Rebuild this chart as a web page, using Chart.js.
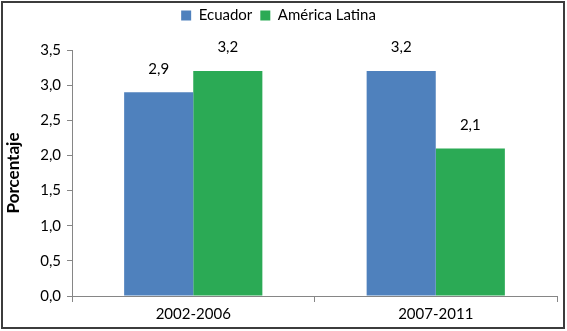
<!DOCTYPE html>
<html>
<head>
<meta charset="utf-8">
<script src="https://cdn.jsdelivr.net/npm/chart.js@4"></script>
<style>
  html, body { margin: 0; padding: 0; background: #fff; }
  #wrap { position: relative; width: 567px; height: 331px; }
</style>
</head>
<body>
<div id="wrap"><canvas id="chart" width="567" height="331"></canvas></div>
<script>
// periods and series
const periods = ["2002-2006", "2007-2011"];
const ecuador = [2.9, 3.2];
const americaLatina = [3.2, 2.1];
const seriesNames = ["Ecuador", "América Latina"];
const FONT = "Lato, 'Open Sans', sans-serif";

const comma = v => Number(v).toFixed(1).replace(".", ",");

// frame around the whole chart
const framePlugin = {
  id: "frame",
  afterDraw(chart) {
    const c = chart.ctx;
    c.save();
    c.strokeStyle = "#3c3c3c";
    c.lineWidth = 2;
    c.strokeRect(2, 2, chart.width - 5, chart.height - 5);
    c.restore();
  }
};

// extra room under the legend
const legendGap = {
  id: "legendGap",
  beforeInit(chart) {
    const fit = chart.legend.fit;
    chart.legend.fit = function () {
      fit.bind(chart.legend)();
      this.height += 17;
    };
  }
};

// value labels above each bar
const valueLabels = {
  id: "valueLabels",
  afterDatasetsDraw(chart) {
    const c = chart.ctx;
    c.save();
    c.font = "15px " + FONT;
    c.fillStyle = "#000";
    c.textAlign = "center";
    c.textBaseline = "bottom";
    chart.data.datasets.forEach((ds, i) => {
      chart.getDatasetMeta(i).data.forEach((bar, j) => {
        c.fillText(comma(ds.data[j]), bar.x, bar.y - 16);
      });
    });
    c.restore();
  }
};

new Chart(document.getElementById("chart"), {
  type: "bar",
  data: {
    labels: periods,
    datasets: [
      { label: seriesNames[0], data: ecuador, backgroundColor: "#4F81BD" },
      { label: seriesNames[1], data: americaLatina, backgroundColor: "#2BAA55" }
    ]
  },
  options: {
    responsive: false,
    animation: false,
    layout: { padding: { top: 0, right: 10, bottom: 0, left: 0 } },
    datasets: { bar: { categoryPercentage: 0.57, barPercentage: 1 } },
    plugins: {
      legend: {
        position: "top",
        labels: {
          boxWidth: 10, boxHeight: 10, padding: 8,
          color: "#000",
          font: { family: FONT, size: 15 }
        }
      },
      tooltip: { enabled: false }
    },
    scales: {
      x: {
        grid: { offset: true, drawOnChartArea: false, tickLength: 6, color: "#868686" },
        border: { color: "#868686" },
        ticks: { color: "#000", font: { family: FONT, size: 15 }, padding: 3 },
        afterFit(s) { s.height = 35; }
      },
      y: {
        min: 0, max: 3.5,
        grid: { drawOnChartArea: false, tickLength: 5, color: "#868686" },
        border: { color: "#868686" },
        ticks: {
          stepSize: 0.5, color: "#000", padding: 6,
          font: { family: FONT, size: 15 },
          callback: v => comma(v)
        },
        title: {
          display: true, text: "Porcentaje", color: "#000",
          font: { family: FONT, size: 17, weight: "bold" },
          padding: { top: 3, bottom: 0 }
        },
        afterFit(s) { s.width = 72; }
      }
    }
  },
  plugins: [legendGap, valueLabels, framePlugin]
});
</script>
</body>
</html>
